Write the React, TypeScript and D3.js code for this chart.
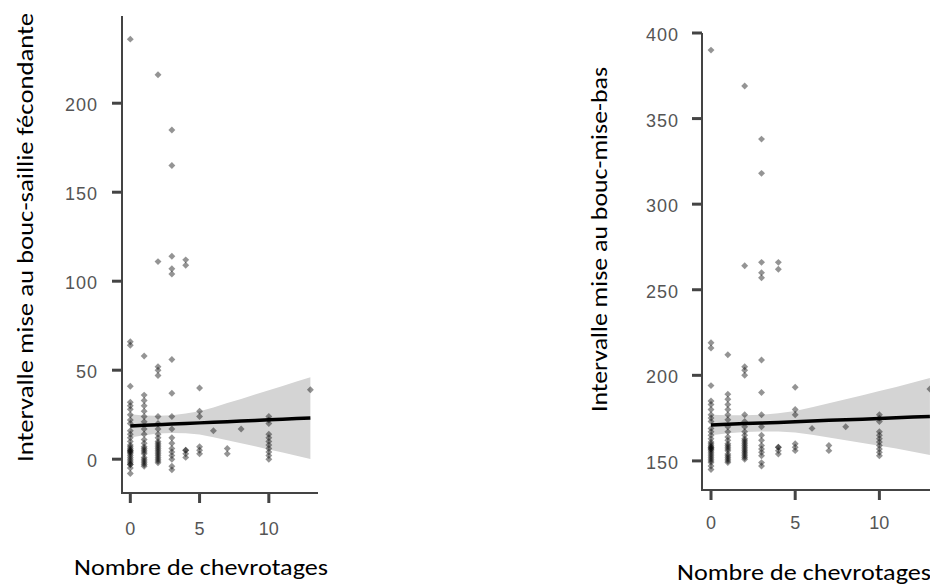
import React from 'react';
import * as d3 from 'd3';

// number of chevrotages (x positions of the columns of points)
const chevrotages = [0, 1, 2, 3, 4, 5, 6, 7, 8, 10, 13];

// interval mise au bouc - saillie fecondante, one list per column
const saillie = [
  [236, 66, 64, 41, 32, 30, 28, 25, 22, 20, 16, 14, 12, 10, 8, 7, 6, 5, 5, 4, 4, 3, 2, 1, 0, -1, -2, -3, -3, -5, -8],
  [58, 36, 33, 30, 27, 24, 21, 17, 14, 11, 9, 7, 6, 5, 4, 3, 1, 0, -1, -2, -3, -4],
  [216, 111, 52, 50, 47, 24, 20, 17, 14, 12, 10, 9, 8, 7, 6, 5, 4, 3, 2, 1, 0, -1, -2],
  [185, 165, 114, 107, 104, 56, 37, 24, 17, 12, 9, 6, 4, 2, 0, -4, -6],
  [112, 109, 5, 5, 3, 1],
  [40, 27, 24, 7, 5, 3],
  [16],
  [6, 3],
  [17],
  [24, 22, 20, 14, 12, 10, 8, 6, 4, 2, 0],
  [39],
];

// interval mise au bouc - mise-bas
const miseBas = [
  [390, 219, 216, 194, 185, 183, 180, 177, 175, 173, 169, 167, 165, 163, 161, 160, 159, 158, 158, 157, 157, 156, 155, 154, 153, 152, 151, 150, 149, 147, 145],
  [212, 189, 186, 183, 180, 177, 174, 170, 167, 164, 162, 160, 159, 158, 157, 156, 154, 153, 152, 151, 150, 149],
  [369, 264, 205, 203, 200, 177, 173, 170, 167, 165, 163, 162, 161, 160, 159, 158, 157, 156, 155, 154, 153, 152, 151],
  [338, 318, 266, 260, 257, 209, 190, 177, 170, 165, 162, 159, 157, 155, 153, 149, 147],
  [266, 262, 158, 158, 156, 154],
  [193, 180, 177, 160, 158, 156],
  [169],
  [159, 156],
  [170],
  [177, 175, 173, 167, 165, 163, 161, 159, 157, 155, 153],
  [192],
];

// fitted line and confidence band, read at x = 0..13
const fitX = [0, 1, 2, 3, 4, 5, 6, 7, 8, 9, 10, 11, 12, 13];
const saillieFit = [18.7, 19.0, 19.4, 19.7, 20.1, 20.4, 20.7, 21.1, 21.4, 21.8, 22.1, 22.4, 22.8, 23.1];
const saillieLo = [12.2, 13.5, 14.4, 14.7, 14.6, 13.9, 12.3, 10.7, 9.0, 7.3, 5.5, 3.7, 1.9, 0.1];
const saillieHi = [25.2, 24.5, 24.4, 24.7, 25.6, 26.9, 29.1, 31.5, 33.8, 36.3, 38.7, 41.1, 43.7, 46.1];
const miseBasFit = [171.0, 171.4, 171.8, 172.1, 172.5, 172.9, 173.3, 173.7, 174.0, 174.4, 174.8, 175.2, 175.6, 175.9];
const miseBasLo = [165.0, 166.1, 166.9, 167.2, 167.2, 166.6, 165.3, 163.7, 162.0, 160.4, 158.8, 157.2, 155.4, 153.4];
const miseBasHi = [177.0, 176.7, 176.7, 177.0, 177.8, 179.2, 181.3, 183.7, 186.0, 188.4, 190.8, 193.2, 195.8, 198.4];

const xTicks = [0, 5, 10];
const saillieTicks = [0, 50, 100, 150, 200];
const miseBasTicks = [150, 200, 250, 300, 350, 400];

const diamond = d3.symbol().type(d3.symbolSquare).size(24)();

function Panel(props) {
  const { x, y, cols, fit, lo, hi, yTicks, yTitle, yTitleX, yTitleMid, yTitleLen, xTitleX, xTitleY, xLabelY, yLabelX } = props;
  const [x0, x1] = x.range();
  const [yb, yt] = y.range();

  const area = d3.area()
    .x((d, i) => x(fitX[i]))
    .y0((d, i) => y(lo[i]))
    .y1((d, i) => y(hi[i]));
  const line = d3.line()
    .x((d, i) => x(fitX[i]))
    .y(d => y(d));

  const pts = [];
  cols.forEach((vals, ci) => {
    vals.forEach(v => pts.push([chevrotages[ci], v]));
  });

  return (
    <g>
      <path d={area(fitX)} fill="#d4d4d4" />
      {pts.map((p, i) => (
        <path key={i} d={diamond}
          transform={`translate(${x(p[0])},${y(p[1])}) rotate(45)`}
          fill="#000" fillOpacity={0.42} />
      ))}
      <path d={line(fit)} fill="none" stroke="#000" strokeWidth={3.5} />

      <path d={`M${x0},${yt}V${yb}H${x1}`} fill="none" stroke="#444" strokeWidth={2} />
      {yTicks.map(t => (
        <g key={t}>
          <line x1={x0 - 10} x2={x0} y1={y(t)} y2={y(t)} stroke="#444" strokeWidth={3} />
          <text x={yLabelX} y={y(t)} dy="0.45em" textAnchor="end" fontSize={18}
            letterSpacing={1} fontFamily="'Liberation Sans', Arial, sans-serif" fill="#555">{t}</text>
        </g>
      ))}
      {xTicks.map(t => (
        <g key={t}>
          <line x1={x(t)} x2={x(t)} y1={yb} y2={yb + 10} stroke="#444" strokeWidth={3} />
          <text x={x(t)} y={xLabelY} textAnchor="middle" fontSize={18}
            fontFamily="'Liberation Sans', Arial, sans-serif" fill="#555">{t}</text>
        </g>
      ))}

      <text transform={`translate(${yTitleX},${yTitleMid}) rotate(-90)`}
        textAnchor="middle" fontSize={22} fontFamily="Carlito, Calibri, Lato, sans-serif"
        textLength={yTitleLen} lengthAdjust="spacingAndGlyphs" fill="#000">{yTitle}</text>
      <text x={xTitleX} y={xTitleY} fontSize={22} fontFamily="Carlito, Calibri, Lato, sans-serif"
        textLength={254} lengthAdjust="spacingAndGlyphs" fill="#000">Nombre de chevrotages</text>
    </g>
  );
}

export default function App() {
  const xL = d3.scaleLinear().domain([-0.6, 13.55]).range([122, 318]);
  const yL = d3.scaleLinear().domain([-19, 249]).range([493, 16]);
  const xR = d3.scaleLinear().domain([-0.535, 13.6]).range([702, 940]);
  const yR = d3.scaleLinear().domain([133, 400]).range([490, 33]);

  return (
    <svg width={930} height={585} style={{ position: 'absolute', left: 0, top: 0, background: '#fff' }}>
      <rect width={930} height={585} fill="#fff" />
      <Panel x={xL} y={yL} cols={saillie} fit={saillieFit} lo={saillieLo} hi={saillieHi}
        yTicks={saillieTicks} yTitle="Intervalle mise au bouc-saillie fécondante"
        yTitleX={33} yTitleMid={237.5} yTitleLen={449} yLabelX={98}
        xTitleX={74} xTitleY={575} xLabelY={535} />
      <Panel x={xR} y={yR} cols={miseBas} fit={miseBasFit} lo={miseBasLo} hi={miseBasHi}
        yTicks={miseBasTicks} yTitle="Intervalle mise au bouc-mise-bas"
        yTitleX={607} yTitleMid={239.5} yTitleLen={345} yLabelX={679}
        xTitleX={677} xTitleY={580} xLabelY={529} />
    </svg>
  );
}
